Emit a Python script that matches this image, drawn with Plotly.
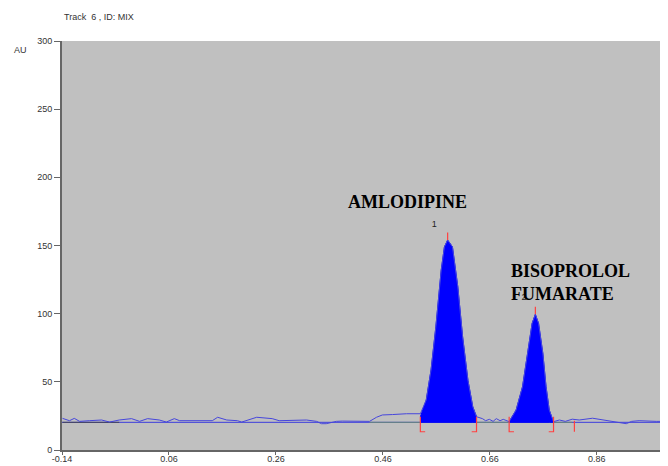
import plotly.graph_objects as go

# ---- data ----
noise_x = [-0.139, -0.126, -0.117, -0.107, -0.089, -0.066, -0.051, -0.033, -0.010, 0.005,
           0.020, 0.042, 0.055, 0.070, 0.080, 0.141, 0.151, 0.168, 0.188, 0.196,
           0.224, 0.253, 0.266, 0.317, 0.336, 0.345, 0.354, 0.373, 0.384, 0.416,
           0.435, 0.448, 0.459, 0.478, 0.504, 0.530]
noise_y = [23.2, 21.5, 23.2, 21.0, 21.5, 22.0, 20.5, 22.0, 23.0, 21.0,
           23.0, 22.0, 20.5, 23.0, 21.5, 21.5, 24.0, 22.0, 21.5, 20.5,
           24.0, 23.0, 21.5, 22.0, 21.0, 19.3, 19.3, 21.0, 21.2, 21.2,
           21.0, 24.0, 25.7, 26.0, 26.6, 26.6]

peak1_x = [0.530, 0.541, 0.550, 0.559, 0.569, 0.575, 0.581, 0.590, 0.600, 0.609, 0.619, 0.628, 0.635]
peak1_y = [24.4, 36.7, 58.7, 90.4, 132.0, 149.0, 154.0, 149.0, 119.7, 83.0, 51.0, 31.7, 24.4]

mid_x = [0.635, 0.646, 0.652, 0.659, 0.666, 0.672, 0.679, 0.685, 0.696]
mid_y = [24.4, 23.0, 21.5, 22.5, 21.0, 23.0, 21.5, 22.5, 20.8]

peak2_x = [0.696, 0.709, 0.721, 0.731, 0.739, 0.745, 0.751, 0.759, 0.765, 0.771, 0.779]
peak2_y = [20.8, 29.3, 46.4, 70.9, 92.9, 99.5, 92.9, 70.9, 46.4, 29.3, 20.8]

tail_x = [0.779, 0.790, 0.801, 0.814, 0.827, 0.852, 0.883, 0.915, 0.925, 0.939, 0.971, 0.993]
tail_y = [20.8, 22.0, 21.0, 22.6, 22.0, 23.3, 21.5, 19.3, 21.0, 21.5, 21.0, 21.0]

baseline_level = 20.3
peak_bounds = [0.530, 0.635, 0.696, 0.779, 0.818]
hook_dir = [1, -1, 1, -1, 0]
apex_x = [0.581, 0.745]
apex_y = [154.0, 99.5]
peak_numbers = ["1", "2"]
compound_names = ["AMLODIPINE", "BISOPROLOL<br>FUMARATE"]

x_ticks = [-0.14, 0.06, 0.26, 0.46, 0.66, 0.86]
y_ticks = [0, 50, 100, 150, 200, 250, 300]

fig = go.Figure()

# flat baseline across the run
fig.add_trace(go.Scatter(x=[x_ticks[0], tail_x[-1]], y=[baseline_level, baseline_level],
                         mode="lines", line=dict(color="#3c3cdc", width=1), hoverinfo="skip"))
# dark segment of integration baseline
fig.add_trace(go.Scatter(x=[noise_x[0], noise_x[7]], y=[baseline_level, baseline_level],
                         mode="lines", line=dict(color="#444455", width=1), hoverinfo="skip"))
fig.add_trace(go.Scatter(x=[noise_x[30], tail_x[3]], y=[baseline_level, baseline_level],
                         mode="lines", line=dict(color="#6a8a7a", width=1), hoverinfo="skip"))

# filled peaks
for px, py in [(peak1_x, peak1_y), (peak2_x, peak2_y)]:
    poly_x = px + px[::-1]
    poly_y = py + [baseline_level] * len(px)
    fig.add_trace(go.Scatter(x=poly_x, y=poly_y, mode="lines", fill="toself",
                             fillcolor="#0000ff", line=dict(color="#0000ff", width=1),
                             hoverinfo="skip"))

# wavy signal
sig_x = noise_x + peak1_x[1:] + mid_x[1:] + peak2_x[1:] + tail_x[1:]
sig_y = noise_y + peak1_y[1:] + mid_y[1:] + peak2_y[1:] + tail_y[1:]
fig.add_trace(go.Scatter(x=sig_x, y=sig_y, mode="lines",
                         line=dict(color="#4646dc", width=1), hoverinfo="skip"))

# red integration markers
rx, ry = [], []
for b, d in zip(peak_bounds, hook_dir):
    top = 24.4 if d != 0 else 21.5
    rx += [b, b]
    ry += [top, 13.4]
    if d != 0:
        rx += [b + 0.009 * d]
        ry += [13.4]
    rx.append(None)
    ry.append(None)
for ax_, ay_ in zip(apex_x, apex_y):
    rx += [ax_, ax_, None]
    ry += [ay_, ay_ + 5.5, None]
fig.add_trace(go.Scatter(x=rx, y=ry, mode="lines", line=dict(color="#ff4040", width=1.2),
                         hoverinfo="skip"))

# peak numbers
fig.add_trace(go.Scatter(x=[apex_x[0] - 0.025, apex_x[1] - 0.021], y=[165, 112],
                         mode="text", text=peak_numbers,
                         textfont=dict(family="Liberation Sans, Arial", size=9, color="#222"),
                         hoverinfo="skip"))

# compound labels
fig.add_annotation(x=0.391, y=182, text="<b>" + compound_names[0] + "</b>", showarrow=False,
                   xanchor="left", yanchor="middle",
                   font=dict(family="Liberation Serif, Times New Roman", size=18, color="#000"))
fig.add_annotation(x=0.696, y=123, text="<b>" + compound_names[1] + "</b>", showarrow=False,
                   xanchor="left", yanchor="middle", align="left",
                   font=dict(family="Liberation Serif, Times New Roman", size=18, color="#000"))

fig.add_annotation(xref="paper", yref="paper", x=0, y=1.059, text="Track  6 , ID: MIX",
                   showarrow=False, xanchor="left", yanchor="middle",
                   font=dict(family="Liberation Sans, Arial", size=9, color="#333"))
fig.add_annotation(xref="paper", yref="paper", x=-0.0825, y=0.978, text="AU",
                   showarrow=False, xanchor="left", yanchor="middle",
                   font=dict(family="Liberation Sans, Arial", size=9, color="#333"))

# the page body adds an 8px offset, so the figure is sized to end at the window edge
fig.update_layout(
    width=660, height=458,
    margin=dict(l=54, r=0, t=33, b=16),
    paper_bgcolor="white", plot_bgcolor="#c0c0c0",
    showlegend=False,
    xaxis=dict(range=[-0.14, 0.993], tickvals=x_ticks, ticktext=[f"{v:.2f}" for v in x_ticks],
               showgrid=False, zeroline=False, showline=True, linecolor="#666", linewidth=2,
               ticks="outside", ticklen=3, tickcolor="#666", automargin=False,
               ticklabelstandoff=-4,
               tickfont=dict(family="Liberation Sans, Arial", size=9, color="#333")),
    yaxis=dict(range=[0, 300], tickvals=y_ticks, showgrid=False, zeroline=False,
               showline=True, linecolor="#666", linewidth=2, automargin=False,
               ticks="outside", ticklen=6, tickcolor="#666",
               tickfont=dict(family="Liberation Sans, Arial", size=9, color="#333")),
)

fig.write_html("out.html")
